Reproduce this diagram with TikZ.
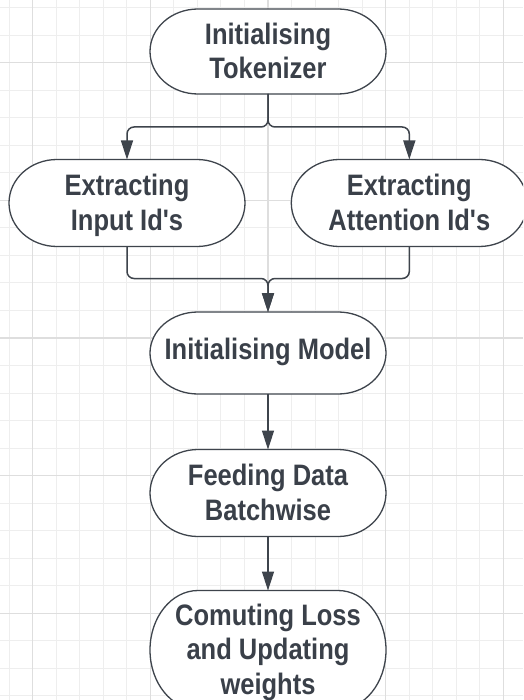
\documentclass[tikz,border=0pt]{standalone}
\usepackage{fontspec}
\setmainfont{Liberation Sans}
\usepackage{graphicx}
\usetikzlibrary{arrows.meta}

\definecolor{gridfine}{HTML}{EEEEEE}
\definecolor{gridbold}{HTML}{DEDEDE}
\definecolor{inkline}{HTML}{3E444C}
\definecolor{inktext}{HTML}{3A4049}

% label text: bold, slightly stretched vertically
\newcommand\lbl[1]{\scalebox{1}[1.16]{\begin{tabular}{@{}c@{}}#1\end{tabular}}}

% stadium box: [text shift], name, centre x, centre y (from top), height, text
\newcommand\stadium[6][0]{%
  \draw[boxline] ({#3-70},{-#4+#5/2}) -- ({#3+70},{-#4+#5/2})
    arc[start angle=90, end angle=-90, x radius=48, y radius={#5/2}]
    -- ({#3-70},{-#4-#5/2})
    arc[start angle=270, end angle=90, x radius=48, y radius={#5/2}] -- cycle;
  \node[boxtext, minimum height=#5pt] (#2) at (#3,-#4) {};
  \node[boxtext] at ([yshift=#1pt]#2.center) {\lbl{#6}};
}

\tikzset{
  boxtext/.style={inner sep=0pt, outer sep=0pt, minimum width=236pt,
    text=inktext, font=\fontsize{25.5}{30}\selectfont\bfseries},
  boxline/.style={draw=inkline, line width=1.3pt, fill=white},
  conn/.style={draw=inkline, line width=1.5pt, rounded corners=7pt,
    -{Triangle[length=19pt,width=12pt]}},
}

\begin{document}
\begin{tikzpicture}[x=1pt,y=1pt]
\useasboundingbox (0,0) rectangle (523,-700);
\clip (0,0) rectangle (523,-700);
\fill[white] (0,0) rectangle (523,-700);

% background grid
\foreach \k in {-1,...,20} {
  \pgfmathsetmacro\gx{32.7+23.53*\k}
  \draw[gridfine, line width=1pt] (\gx,0) -- (\gx,-700);
}
\foreach \k in {-2,...,23} {
  \pgfmathsetmacro\gy{62.7+27.53*\k}
  \draw[gridfine, line width=1pt] (0,-\gy) -- (523,-\gy);
}
\foreach \k in {0,5,10,15,20} {
  \pgfmathsetmacro\gx{32.7+23.53*\k}
  \draw[gridbold, line width=1.2pt] (\gx,0) -- (\gx,-700);
}
\foreach \k in {0,5,10,15,20} {
  \pgfmathsetmacro\gy{62.7+27.53*\k}
  \draw[gridbold, line width=1.2pt] (0,-\gy) -- (523,-\gy);
}

% process boxes
\stadium[-3]{tok}{268}{51.5}{85}{Initialising\\Tokenizer}
\stadium[-3]{inp}{127}{203}{87}{Extracting\\Input Id\textquotesingle s}
\stadium[-3]{att}{409.3}{203}{87}{Extracting\\Attention Id\textquotesingle s}
\stadium{mod}{268}{353}{82}{Initialising Model}
\stadium[-3]{feed}{268}{493}{87}{Feeding Data\\Batchwise}
\stadium[-3]{loss}{268}{650}{119}{Comuting Loss\\and Updating\\weights}

% branch and merge points
\coordinate (split) at (268,-127);
\coordinate (merge) at (268,-278.5);

% connectors
\draw[conn] (tok.south) -- (split) -- (split -| inp.north) -- (inp.north);
\draw[conn] (tok.south) -- (split) -- (split -| att.north) -- (att.north);
\draw[conn] (inp.south) -- (inp.south |- merge) -- (merge) -- (mod.north);
\draw[conn] (att.south) -- (att.south |- merge) -- (merge) -- (mod.north);
\draw[conn] (mod.south) -- (feed.north);
\draw[conn] (feed.south) -- (loss.north);
\end{tikzpicture}
\end{document}
